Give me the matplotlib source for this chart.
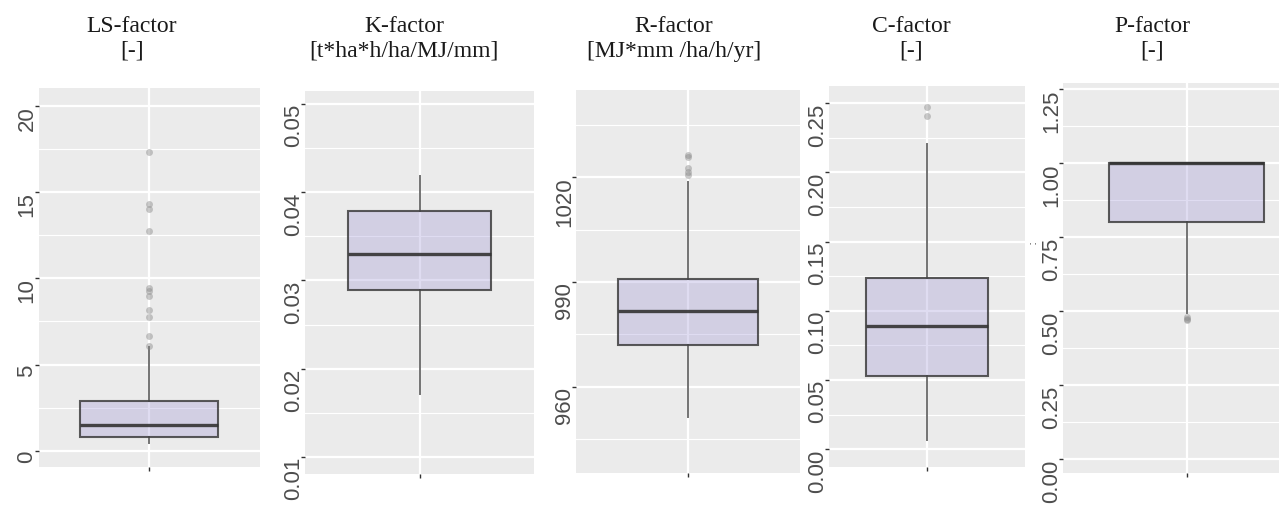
import matplotlib
matplotlib.use("Agg")
import matplotlib.pyplot as plt

# box statistics (whislo, q1, med, q3, whishi)
ls_stats = [0.46, 0.81, 1.49, 2.90, 6.00]
ls_fliers = [6.07, 6.65, 7.75, 8.15, 9.00, 9.28, 9.41, 12.75, 14.0, 14.3, 17.33]
k_stats = [0.01708, 0.02896, 0.03301, 0.03793, 0.04187]
k_fliers = []
r_stats = [951.2, 971.95, 981.6, 990.86, 1018.7]
r_fliers = [1020.7, 1021.6, 1022.6, 1025.9, 1026.4]
c_stats = [0.0067, 0.0532, 0.0891, 0.1236, 0.2206]
c_fliers = [0.241, 0.2476]
p_stats = [0.493, 0.80, 1.00, 1.00, 1.00]
p_fliers = [0.47, 0.475, 0.482]

titles = ["LS-factor", "K-factor", "R-factor", "C-factor", "P-factor"]
units = ["[-]", "[t*ha*h/ha/MJ/mm]", "[MJ*mm /ha/h/yr]", "[-]", "[-]"]

ls_ticks = [0, 5, 10, 15, 20]
ls_labels = ["0", "5", "10", "15", "20"]
k_ticks = [0.01, 0.02, 0.03, 0.04, 0.05]
k_labels = ["0.01", "0.02", "0.03", "0.04", "0.05"]
r_ticks = [960, 990, 1020]
r_labels = ["960", "990", "1020"]
c_ticks = [0.0, 0.05, 0.10, 0.15, 0.20, 0.25]
c_labels = ["0.00", "0.05", "0.10", "0.15", "0.20", "0.25"]
p_ticks = [0.0, 0.25, 0.5, 0.75, 1.0, 1.25]
p_labels = ["0.00", "0.25", "0.50", "0.75", "1.00", "1.25"]

ylims = [(-0.94, 21.03), (0.00804, 0.0515), (935.3, 1045.0),
         (-0.0128, 0.2625), (-0.046, 1.271)]

W, H = 1279, 507
# panel boxes in pixels: left, top, right, bottom
panels = [(38.5, 88, 260, 467), (305, 91, 534, 474), (576, 90, 800, 473),
          (829, 86, 1025, 467), (1063, 83, 1310, 473)]
title_x = [132, 404, 674, 911, 1152]


def minor_of(ticks, lim):
    step = ticks[1] - ticks[0]
    out = []
    m = ticks[0] - step / 2
    while m < lim[1]:
        if m > lim[0]:
            out.append(m)
        m += step
    return out


def draw_panel(ax, stats, fliers, ticks, labels, lim):
    lo, q1, med, q3, hi = stats
    bstats = [dict(whislo=lo, q1=q1, med=med, q3=q3, whishi=hi,
                   fliers=fliers)]
    ax.bxp(bstats, positions=[1], widths=0.75, patch_artist=True,
           showcaps=False, manage_ticks=False,
           boxprops=dict(facecolor=(0.62, 0.58, 0.83, 0.32),
                         edgecolor=(0.2, 0.2, 0.2, 0.8), lw=1.5),
           medianprops=dict(color="#333333", lw=2.4, alpha=0.9),
           whiskerprops=dict(color="#444444", lw=1.4, alpha=0.75),
           flierprops=dict(marker="o", markerfacecolor="#888888",
                           markeredgecolor="none", markersize=5, alpha=0.45))

    ax.set_facecolor("#ebebeb")
    for s in ax.spines.values():
        s.set_visible(False)
    ax.set_axisbelow(True)
    ax.set_xlim(0.4, 1.6)
    ax.set_ylim(*lim)
    ax.set_xticks([1])
    ax.set_xticklabels([""])
    ax.set_yticks(ticks)
    ax.set_yticklabels(labels)
    ax.set_yticks(minor_of(ticks, lim), minor=True)
    ax.grid(which="major", color="white", lw=1.6)
    ax.grid(which="minor", axis="y", color="white", lw=0.8)
    ax.tick_params(axis="y", which="major", length=2.9, width=1.0,
                   color="#333333", labelsize=16, labelcolor="#4d4d4d",
                   pad=1.5)
    ax.tick_params(axis="y", which="minor", length=0)
    ax.tick_params(axis="x", length=2.9, width=1.0, color="#333333")
    plt.setp(ax.get_yticklabels(), rotation=90, rotation_mode="anchor",
             ha="right", va="baseline", family="Liberation Sans")


fig = plt.figure(figsize=(W / 100, H / 100), dpi=100)

all_stats = [ls_stats, k_stats, r_stats, c_stats, p_stats]
all_fliers = [ls_fliers, k_fliers, r_fliers, c_fliers, p_fliers]
all_ticks = [ls_ticks, k_ticks, r_ticks, c_ticks, p_ticks]
all_labels = [ls_labels, k_labels, r_labels, c_labels, p_labels]

for i, (l, t, r, b) in enumerate(panels):
    ax = fig.add_axes([l / W, 1 - b / H, (r - l) / W, (b - t) / H])
    draw_panel(ax, all_stats[i], all_fliers[i], all_ticks[i],
               all_labels[i], ylims[i])
    fig.text(title_x[i] / W, 1 - 32 / H, titles[i], ha="center",
             va="baseline", fontsize=17, family="Liberation Serif",
             color="#1a1a1a")
    fig.text(title_x[i] / W, 1 - 57 / H, units[i], ha="center",
             va="baseline", fontsize=17, family="Liberation Serif",
             color="#1a1a1a")

# stray mark left of the P-factor axis in the source image
fig.text(1032 / W, 1 - 242 / H, ":", rotation=90, ha="center",
         va="center", fontsize=9, color="#555555")

fig.savefig("out.png", dpi=100)
